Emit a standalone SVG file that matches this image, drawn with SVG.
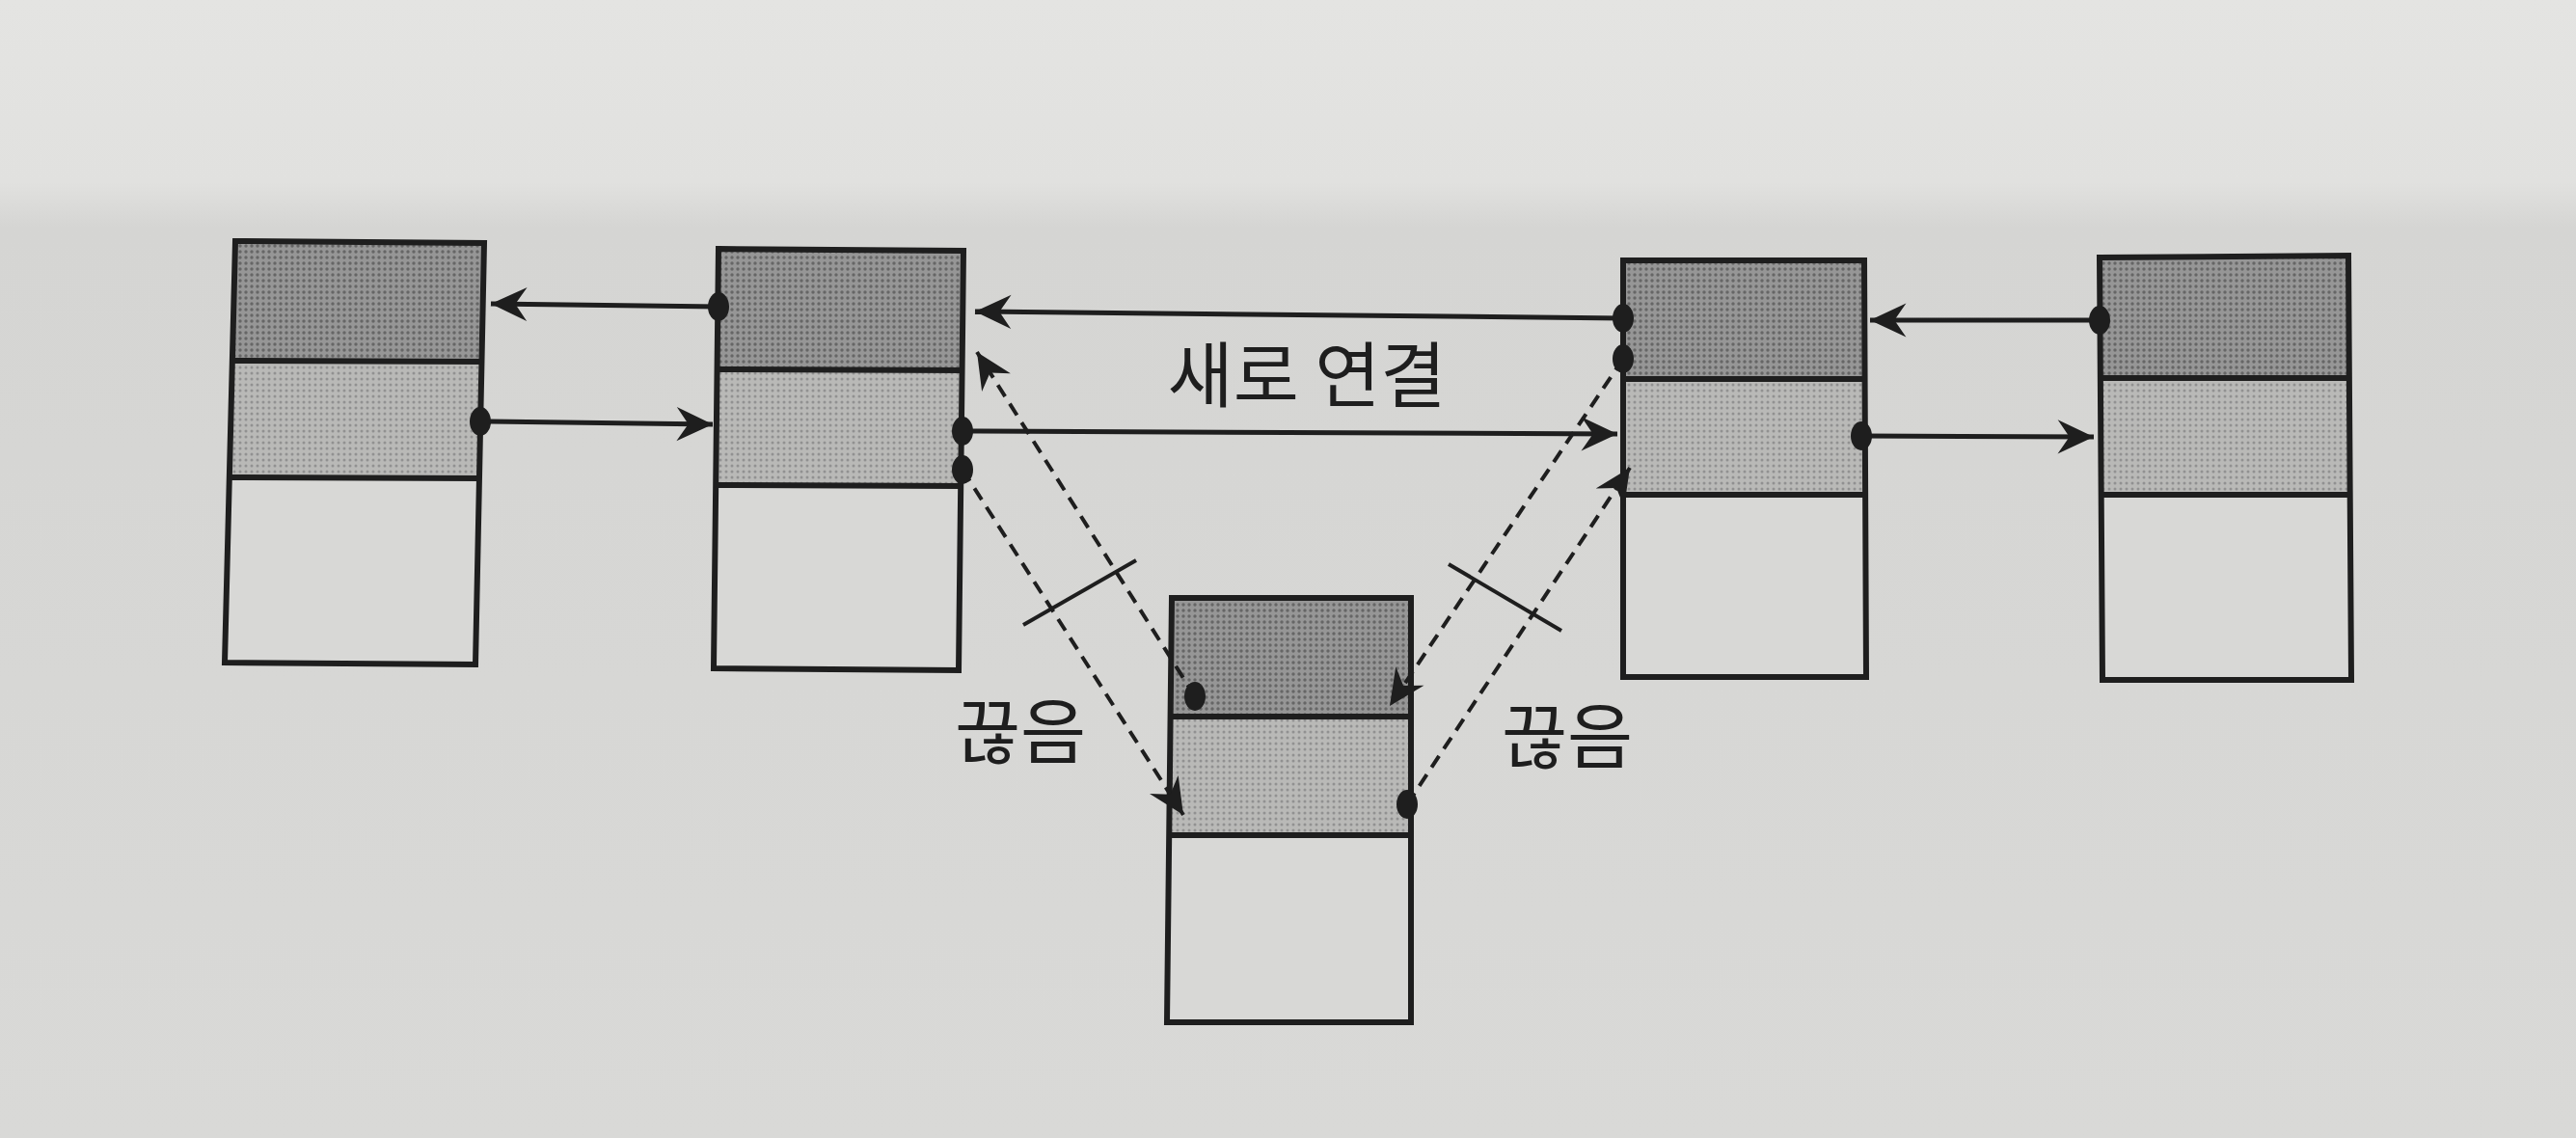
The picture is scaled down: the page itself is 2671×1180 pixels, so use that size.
<svg xmlns="http://www.w3.org/2000/svg" width="2671" height="1180" viewBox="0 0 2671 1180">
<defs>
<linearGradient id="bg" x1="0" y1="0" x2="0" y2="1">
<stop offset="0" stop-color="#e4e4e2"/>
<stop offset="0.16" stop-color="#e1e1df"/>
<stop offset="0.2" stop-color="#d5d5d3"/>
<stop offset="1" stop-color="#d9d9d7"/>
</linearGradient>
<pattern id="dotsDark" width="6" height="6" patternUnits="userSpaceOnUse">
<rect width="6" height="6" fill="#969696"/>
<circle cx="3" cy="3" r="1.7" fill="#666666"/>
</pattern>
<pattern id="dotsLight" width="6" height="6" patternUnits="userSpaceOnUse">
<rect width="6" height="6" fill="#b9b9b7"/>
<circle cx="3" cy="3" r="1.5" fill="#919191"/>
</pattern>
<marker id="ah" markerUnits="userSpaceOnUse" markerWidth="44" markerHeight="44" viewBox="-36 -18 40 36" refX="0" refY="0" orient="auto">
<path d="M0,0 L-34,-16 L-23,0 L-34,16 Z" fill="#1e1e1e"/>
</marker>
</defs>
<style>
.frame{fill:none;stroke:#1e1e1e;stroke-width:6;stroke-linejoin:miter}
.div{stroke:#1e1e1e;stroke-width:6}
.top{fill:url(#dotsDark)}
.mid{fill:url(#dotsLight)}
.bot{fill:#d8d8d6}
.link{fill:none;stroke:#1e1e1e;stroke-width:5;marker-end:url(#ah)}
.dash{fill:none;stroke:#1e1e1e;stroke-width:4;stroke-dasharray:14 9;marker-end:url(#ah)}
.cut{stroke:#1e1e1e;stroke-width:4}
.dot{fill:#1e1e1e}
.lbl{font-family:"Noto Sans CJK KR","Noto Sans",sans-serif;font-size:74px;fill:#1e1e1e;text-anchor:middle}
</style>
<rect width="2671" height="1180" fill="url(#bg)"/>

<g id="node1">
<polygon class="top" points="244,250 502,252 500,374 241,374"/>
<polygon class="mid" points="241,374 500,374 497,495 238,495"/>
<polygon class="bot" points="238,495 497,495 493,689 233,687"/>
<polygon class="frame" points="244,250 502,252 493,689 233,687"/>
<line class="div" x1="241" y1="374" x2="500" y2="375"/>
<line class="div" x1="238" y1="495" x2="497" y2="496"/>
</g>

<g id="node2">
<polygon class="top" points="745,258 999,260 997,383 743,383"/>
<polygon class="mid" points="743,383 997,383 996,503 742,503"/>
<polygon class="bot" points="742,503 996,503 994,695 740,693"/>
<polygon class="frame" points="745,258 999,260 994,695 740,693"/>
<line class="div" x1="743" y1="383" x2="997" y2="384"/>
<line class="div" x1="742" y1="503" x2="996" y2="504"/>
</g>

<g id="node3">
<polygon class="top" points="1683,270 1933,270 1934,393 1683,393"/>
<polygon class="mid" points="1683,393 1934,393 1934,513 1683,513"/>
<polygon class="bot" points="1683,513 1934,513 1935,702 1683,702"/>
<polygon class="frame" points="1683,270 1933,270 1935,702 1683,702"/>
<line class="div" x1="1683" y1="393" x2="1934" y2="393"/>
<line class="div" x1="1683" y1="513" x2="1934" y2="513"/>
</g>

<g id="node4">
<polygon class="top" points="2177,267 2435,265 2436,392 2178,392"/>
<polygon class="mid" points="2178,392 2436,392 2437,513 2179,513"/>
<polygon class="bot" points="2179,513 2437,513 2438,705 2180,705"/>
<polygon class="frame" points="2177,267 2435,265 2438,705 2180,705"/>
<line class="div" x1="2178" y1="392" x2="2436" y2="392"/>
<line class="div" x1="2179" y1="513" x2="2437" y2="513"/>
</g>

<g id="nodeM">
<polygon class="top" points="1215,620 1463,620 1463,743 1214,743"/>
<polygon class="mid" points="1214,743 1463,743 1463,866 1212,866"/>
<polygon class="bot" points="1212,866 1463,866 1463,1060 1210,1060"/>
<polygon class="frame" points="1215,620 1463,620 1463,1060 1210,1060"/>
<line class="div" x1="1214" y1="743" x2="1463" y2="743"/>
<line class="div" x1="1212" y1="866" x2="1463" y2="866"/>
</g>

<g id="connectors">
<line class="link" x1="745" y1="318" x2="509" y2="315"/>
<line class="link" x1="498" y1="437" x2="739" y2="440"/>
<line class="link" x1="1683" y1="330" x2="1011" y2="323"/>
<line class="link" x1="998" y1="447" x2="1677" y2="450"/>
<line class="link" x1="2177" y1="332" x2="1939" y2="332"/>
<line class="link" x1="1930" y1="452" x2="2171" y2="453"/>
<line class="dash" x1="1239" y1="722" x2="1013" y2="365"/>
<line class="dash" x1="998" y1="487" x2="1227" y2="845"/>
<line class="dash" x1="1683" y1="372" x2="1441" y2="732"/>
<line class="dash" x1="1459" y1="834" x2="1690" y2="485"/>
<line class="cut" x1="1061" y1="648" x2="1178" y2="581"/>
<line class="cut" x1="1502" y1="585" x2="1619" y2="654"/>
<ellipse class="dot" cx="745" cy="318" rx="11" ry="15"/>
<ellipse class="dot" cx="498" cy="437" rx="11" ry="15"/>
<ellipse class="dot" cx="1683" cy="330" rx="11" ry="15"/>
<ellipse class="dot" cx="998" cy="447" rx="11" ry="15"/>
<ellipse class="dot" cx="2177" cy="332" rx="11" ry="15"/>
<ellipse class="dot" cx="1930" cy="452" rx="11" ry="15"/>
<ellipse class="dot" cx="1239" cy="722" rx="11" ry="15"/>
<ellipse class="dot" cx="998" cy="487" rx="11" ry="15"/>
<ellipse class="dot" cx="1683" cy="372" rx="11" ry="15"/>
<ellipse class="dot" cx="1459" cy="834" rx="11" ry="15"/>
</g>

<g id="labels">
<text class="lbl" x="1355" y="416">새로 연결</text>
<text class="lbl" x="1058" y="786">끊음</text>
<text class="lbl" x="1625" y="791">끊음</text>
</g>
</svg>
